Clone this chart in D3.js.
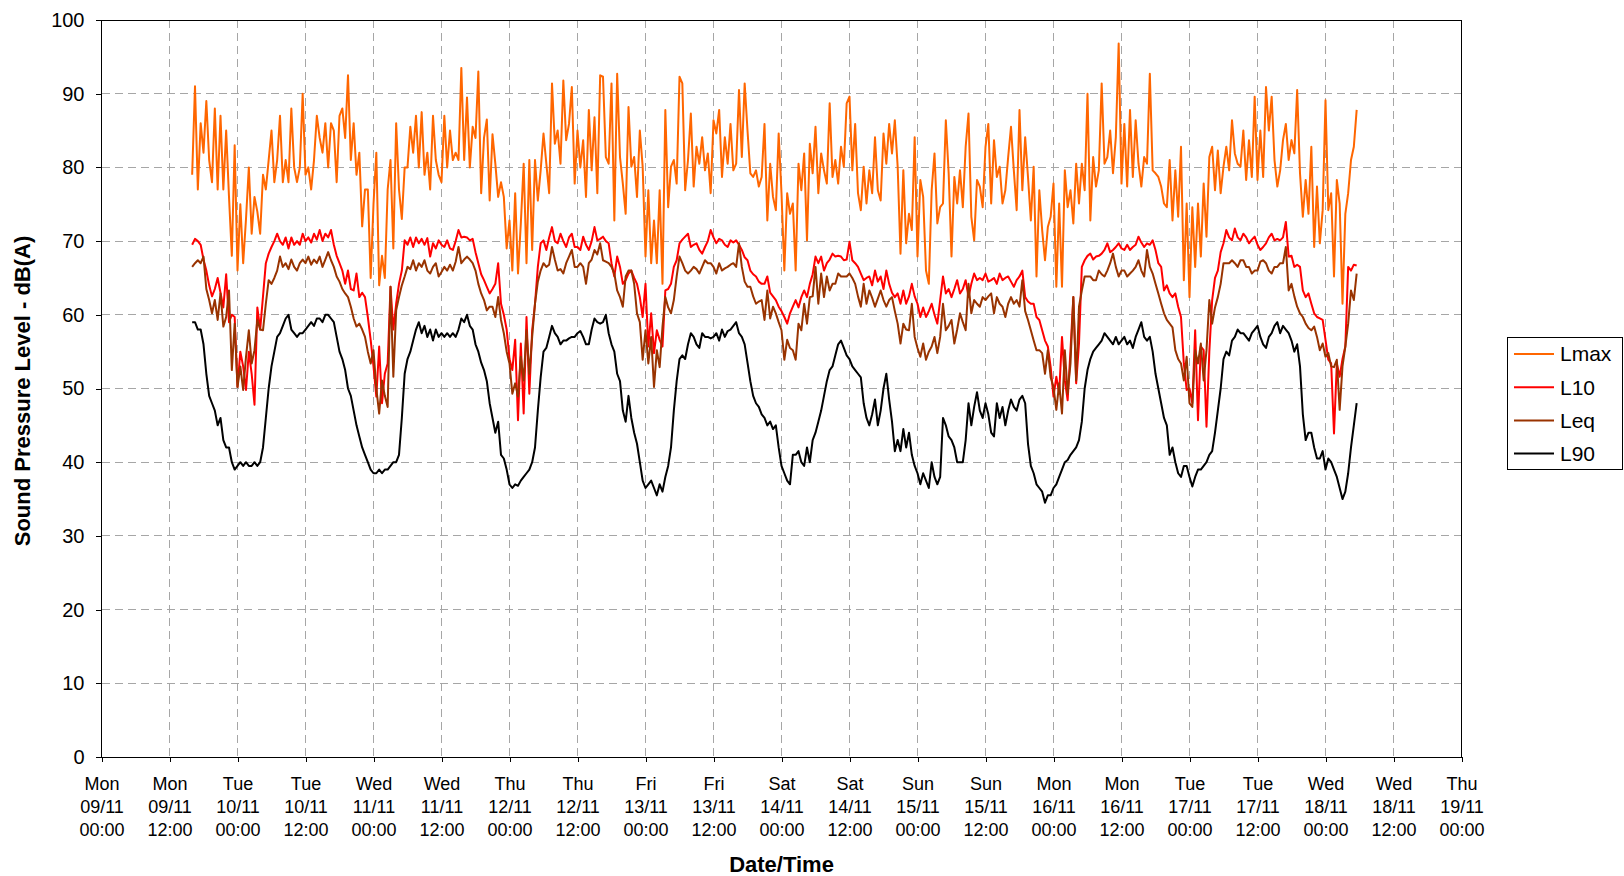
<!DOCTYPE html>
<html>
<head>
<meta charset="utf-8">
<script src="https://cdn.jsdelivr.net/npm/d3@7"></script>
<style>
    body { margin: 0; background: #fff; }
    svg { display: block; font-family: "Liberation Sans", Arial, sans-serif; }
    .grid line { stroke: #a6a6a6; stroke-width: 1; stroke-dasharray: 8,5; shape-rendering: crispEdges; }
    .axis path, .axis line { stroke: #000; shape-rendering: crispEdges; }
    .axis text { fill: #000; }
    .x.axis text { font-size: 18px; }
    .y.axis text { font-size: 20px; }
    .line { fill: none; stroke-width: 2; stroke-linejoin: round; }
</style>
</head>
<body>
<script>
// readings every 30 minutes, starting Mon 09/11 16:00
var startTime = new Date(2009, 10, 9, 16, 0);
var stepMinutes = 30;

var seriesNames = ['Lmax', 'L10', 'Leq', 'L90'];
var seriesColors = ['#ff6600', '#ff0000', '#993300', '#000000'];

var lmax = [
    79,91,77,86,82,89,81,78,88,77,87,77,85,76,68,83,
    66,75,67,73,80,71,76,74,71,79,77,81,85,78,81,87,78,81,78,88,80,78,80,90,
    79,80,77,81,87,84,82,86,80,86,85,78,87,88,84,92.5,81,86,79,82,72,77,77,65,
    75,82,64,68,65,77,81,69,86,77,73,80,80,85.5,82,87,80,87.5,79,82,77,87,81,79,
    78,87,80,85,81,82,81,93.5,81,89.5,80,85.5,84,93,76.5,84,86.5,75.5,84.5,80.5,76,78,76,69,
    72.8,66,76.5,65.6,72.4,80.5,67,81,68.8,81,75.5,79.6,84.6,80.5,76.5,91.4,83.2,85,80.5,91.8,83.7,85.9,90.9,77.8,
    85,80,83.7,76,87.8,79.6,86.8,76.5,92.5,92.3,81.4,80.5,91.4,72.8,92.7,81.4,77.8,73.7,88.2,80.1,81.4,76,85,80.1,
    67.9,76.9,67,72.8,67,76.9,64.2,87.8,74.6,80.1,81,77.8,92.3,91.4,76.9,81,87.3,77.4,82.8,80.5,84.1,79.6,81.9,76.5,
    86.4,84.6,87.8,78.7,84.1,80.5,85.9,79.6,80.5,90.5,81.4,91.4,85,79.2,78.7,79.6,77.4,78.7,85.9,72.8,80.5,76,74.2,84.6,
    76.5,66,76.5,73.7,75.1,66,80.5,76.9,81.9,70.1,83.2,79.2,85.5,76.5,81.9,79.6,77.8,88.7,78.7,81,77.8,82.8,80.1,88.7,
    89.6,79.6,85.9,76.5,74.2,80.1,75.1,79.6,76.5,84.1,76.9,75.5,84.6,80.5,85.9,81.9,86.4,80.1,68.3,79.6,69.7,73.7,71.5,84.1,
    67.9,78.3,76,66,64.2,76.9,81.9,72.4,74.6,75.1,86.4,79.2,67.9,78.7,75.1,79.6,74.6,82.8,87.3,73.3,70.1,78.3,77.4,74.6,
    82.8,85.9,75.1,83.7,78.7,80.1,75.1,76.9,81.4,85.5,79.6,74.2,87.8,76.9,84.1,78.7,72.8,80.1,65.2,76.9,71.5,67.4,71.9,73.3,
    77.8,63.8,75.1,63.8,79.6,74.6,76.9,72.4,80.5,75.1,80.5,76.9,90,72.8,81.4,77.4,79.6,91.4,80.5,81.4,85,79.2,84.1,96.8,
    77.8,85.9,77.4,87.8,78.7,86.4,80.5,77.4,81.4,80.5,92.7,79.6,79.2,78.7,77.4,75.1,74.6,81,72.8,79.6,73.3,82.8,64.7,75.1,
    62.4,74.6,66.5,75.1,67.9,77.8,70.6,81.4,82.8,76.9,82.3,76.5,80.1,82.8,79.6,86.4,81.9,80.5,80.1,85,78.3,83.7,78.7,89.6,
    78.3,85,78.7,90.9,85,89.6,81,77.4,79.6,83.7,85.9,81,83.7,81.9,90.5,79.2,73.3,78.3,73.7,82.8,69.2,77.4,69.7,74.2,
    89.1,74.2,76.5,65.2,78.3,75.1,61.5,73.7,76.5,81,82.8,87.8
];

var l10 = [
    69.5,70.3,70,69.5,67.5,66,64,62.5,63.5,65,63,61,65.5,59,60,59.7,
    50.2,55,53,49.8,55,52,47.8,61,58,62.5,67,68.3,69.2,70,71,70,69.5,70.5,69,70.5,69.5,70,69.5,71,
    70,70.5,69.8,71,70.2,71.5,70,71,70.5,71.5,69.5,68,67,66,64.2,66,63.5,63.3,65.6,62.4,63,62.4,59.7,56.6,
    53,48.9,55.7,48,52,53.4,63.8,58,61.5,64.2,66,70.1,69.5,70.5,69.2,70.5,69.7,70.3,69.5,70.4,67.9,69.7,69,70.1,
    69.5,69.2,70.1,69,68.8,70,71.5,70.5,70.6,70.5,70.1,70.3,68.5,67,65.5,64.7,63.8,62.9,63.5,64.2,67,61.5,60,58,
    54,52.5,56.6,45.7,56.1,46.6,59.7,49.3,57.9,61.5,66.5,69.7,70.1,68.8,70.5,71.9,70,69.7,71,70,69.2,70.5,71,69.2,
    69.2,68.8,70.6,69.5,68.8,70,71.9,70.1,70.3,70.6,70,69.7,67,65.2,67.9,66.5,64.2,64.7,65.6,66,65,64.2,62.4,59.7,
    64.2,55.7,60.2,54.8,57.9,56.6,55.7,63.3,63.5,64.2,66.5,67.4,69.7,70.2,70.6,71,69.2,69.5,69.7,68.8,68.3,69.2,70,71.5,
    70.5,69.7,70.3,70.1,69.5,69.2,70.1,69.8,70.1,69.5,68.8,67.8,67.4,66,65.5,65.2,64.5,64.2,64.2,65.2,63,62.5,62,61.1,
    60.5,59.7,58.8,60.2,61.1,62,61,62.4,63.3,62.4,64.2,65.5,67.9,67,67.9,66,67,67.5,68.3,67.9,68,67.9,67.4,67.5,
    69.9,67.4,67,66.5,65.6,64.7,65,65.2,64,66,64.5,65.2,63.5,66,64.2,63,62.4,62.9,61.5,63.3,61.5,62.5,64.2,62.5,
    61.5,59.7,61,59.7,60.5,61.5,60,58.8,62,65.2,62.9,63.5,62.4,63.5,64.7,62.9,63.5,64.7,62.4,64.2,65.6,64.7,65,64.7,
    65.6,64.5,64.7,65,64.2,65.6,64.7,65,65.2,64.5,63.8,64.7,65.2,66,62.4,61.8,61.5,61.5,59.7,59.3,57.9,56.5,55.7,52.9,
    48.9,51.6,49.3,57,51.1,48.4,55.2,62.4,50.7,56.1,66.5,67.4,68,68.3,67.5,67.9,68,68.3,68.8,69.7,68.5,68.8,69.2,69.7,
    69,68.8,69.5,68.8,69.2,69.5,70.6,69.8,69.2,69.7,69.5,70.1,68.8,67,66.5,63.3,64,62.9,62.4,62.9,61.1,59.7,53.4,49.8,
    50,48,57.9,45.7,55.7,55.2,44.8,55,62,65,66,68.5,69.7,71.5,70.5,70.1,71.7,70.5,70.1,71,70.5,69.7,70.2,70.6,
    69.5,68.8,69.2,69.7,70.5,71,70.1,70.3,70.1,70.5,72.6,67.9,68,66.5,66.8,66.5,63.3,62.4,62.9,61.5,60.2,59.7,59.5,59.3,
    56.6,53.9,53.4,43.9,53.4,51.6,54,55.7,66.5,66,66.8,66.7
];

var leq = [
    66.5,67,67.4,67,67.9,63.5,62,60.2,62,59.3,62.9,58.4,59.7,63.3,52.5,58.8,
    50.2,53,49.8,54.3,57.9,53.4,55.2,59.3,58,57.9,61.5,64.7,64.2,65,66,67.9,66.5,67,66.2,67.5,66.5,66,67,67.5,
    67,67.9,66.8,67.5,67,67.9,66.5,67.5,68.5,67.4,66.5,65.2,64.5,63.5,62.9,62.4,61.1,59.5,58.4,58.8,58,57,55,53.4,
    55.2,50,46.6,51.1,49,47.5,63.8,51.6,60.6,62.4,64,65.2,66.5,66.2,67.4,66,67,66.5,67.4,66,65.6,66.5,67,65.2,
    65.8,66.5,66,66.8,66,67.2,69.2,67,67.5,67.9,67.5,67,66,64.2,62.9,62,60.6,61.1,61.1,59.7,62.4,59.3,57.5,55,
    53.4,49.3,50.7,48.9,54.3,51.1,57.9,52,57,61.5,64.5,66,67,66.5,66.8,69.2,67.5,66,66.2,65.6,67,67.9,68.8,66.5,
    66.5,67,66.5,64.2,67,67.5,68.8,68.2,69.7,67.4,67.2,67,66.5,65.6,63.3,62.4,61.1,65.2,66,66,64.2,60.2,59,53.9,
    57.9,53.4,57,50.2,55.2,52.9,58.4,62.4,61,60.2,62,65.2,67.9,67,66,65.6,66,66.5,66.2,65.6,66.5,67.4,67,67,
    66.5,65.6,67,66,66.3,66.5,66.8,67,66.5,69.7,66.5,64.5,63.8,63.8,62.5,61.5,61.8,62,59.3,63.3,59.5,61.1,60.2,59,
    57.9,53.9,56.6,55.5,55.2,53.9,58.8,57.9,61.5,58.8,62.4,62.5,66.5,61.5,65.6,62.4,65.2,63.3,64.2,64.2,65.6,65.2,65.2,65.2,
    65.6,65,64.2,62.5,61.1,64.2,61.5,63.3,62.3,61.1,62.2,63.3,62,61.1,62,62.4,60.5,58.8,56.1,58.8,58,57.9,61.5,57,
    55.5,54.3,56.1,53.9,55,55.7,57,54.8,57,61.5,57.9,58.5,59.3,56.1,58,60.2,59,57.9,64.2,60.2,62,61.5,61.1,62.4,
    62,62.5,62.9,60.2,62.4,61.5,61.1,59.7,61.5,62.4,61.5,62,61.1,64.7,60.5,59.3,57.9,56.5,55.2,55.2,54.8,52,55.2,51.5,
    50.2,47.1,50.7,46.6,55.2,49.3,53.4,62.4,51.1,61.1,63.3,65.2,65.2,65.2,64.7,64.7,66,65.5,65.2,66,67,68.3,66.5,65.2,
    66,66,65.2,65.6,66,66.5,67.4,66,65.2,68.8,66.5,65.6,64.2,62.9,61.5,60.2,59.3,58.8,58.3,55.2,54,53.4,51.1,54.3,
    48,47.5,55.2,53.4,56.1,51.1,55.2,62,58.8,61,62.4,64.2,67,67,67,67.4,67,66.5,67.4,67.4,66.5,66.5,65.6,66,
    66,67.2,67.4,67,66,65.6,66.5,66.5,67,67,69.2,63.3,64.2,62.5,61.1,60.2,59.7,58.8,58.2,57.9,58.4,57,55.2,56.1,
    54.3,54.8,53,52.9,53.9,47.1,53,55.7,58.8,63.3,62,65.6
];

var l90 = [
    59,59,58,58,56,52,49,48,47,45,46,43,42,42,40,39,
    39.5,40,39.5,40,39.5,39.5,40,39.5,40,42,46,50,53,55,57,57.5,58.5,59.5,60,58,57.5,57,57.5,57.5,
    58,58.5,59,58.5,59.5,59.5,59,60,60,59.5,59,57,55,54,52.5,50,49,47,45,43.5,42,41,40,39,
    38.5,38.5,39,38.5,39,39,39.5,40,40,41,46,52,54,55,56.5,58,59,57.5,58.5,57,58,56.5,58,57,
    57.5,57,57.5,57,57.5,57,58,59.5,59,60,58.5,58,56,55,53.5,52.5,51,48,46,44,45.5,41,40.5,39,
    37,36.5,37,36.8,37.5,38,38.5,39,40,42,47,51.5,55,55.5,57,58.5,57.5,57,56,56.5,56.5,56.8,57,57,
    57.5,57.8,57,56,56,58,59.5,59,58.8,59,60,57.5,56,55,52,51,47,45.5,49,46,44,42.5,40,37.5,
    36.5,37,37.5,36.5,35.5,37,36,38,39.5,42,47,51,54,54.5,54,56,57.5,57,56,55.5,57.5,57,57,56.8,
    57,57.5,56.5,58,57,57.8,58,58.5,59,57.5,57,56,53.5,51,49,48,47.5,46.5,46,45,45.5,44.5,45,42,
    39.5,38.5,37.5,37,41,41,41.5,40,39.5,42,40,43,44,45.5,47,49,51,52.5,53,54.5,56,56.5,55.5,54.5,
    54,53,52.5,52,51.5,48,46,45,46.5,48.5,45,47,50,52,48.5,45.5,41.5,43,41.5,44.5,42,44,41,39.5,
    38.5,37,38.5,37.5,36.5,40,38,37,38,46,45,43.5,43,42,40,40,40,43,48,45,47.5,49.5,47,46,
    48,46.5,44,43.5,48,46,47.5,45,47,48.5,47.5,47,48.5,49,48,42.5,39.5,38.5,37,36.5,36,34.5,35.5,35.5,
    36.5,37,38,39,40,40.3,41,41.5,42,43,45.5,50,52.5,54,55,55.5,56,56.5,57.5,57,56.5,56,57,56,
    56.5,57,56,56.5,55.5,57,58,59,57,56.5,57,55,52,50,48,46,45,41,42,40,38.5,38,39.5,39.5,
    38,36.7,38,39,39,39.5,40,41,41.5,44,47,50,54,55,54.5,56.5,57,58,57.5,57.5,57,56.5,57.5,58,
    58.5,57,56,55.5,57,57.5,58.5,59,57.5,58.5,58,57.5,56.5,55,56,53,46.5,43,44,44,42,40.5,40.5,41.5,
    39,40.5,40,39,38,36.5,35,36,38.5,42,45,48
];

// axis ticks
var yTicks = [0, 10, 20, 30, 40, 50, 60, 70, 80, 90, 100];
var xStart = new Date(2009, 10, 9, 0, 0);
var xEnd = new Date(2009, 10, 19, 0, 0);

// set the dimensions of the page and the plot area
var width = 1624, height = 876;
var plot = {left: 101.5, right: 1461.5, top: 20, bottom: 757};

// set the ranges
var x = d3.scaleTime().domain([xStart, xEnd]).range([plot.left, plot.right]);
var y = d3.scaleLinear().domain([0, 100]).range([plot.bottom, plot.top]);

var xTicks = d3.timeHour.every(12).range(xStart, d3.timeHour.offset(xEnd, 1));

// turn each value array into {time, value} points
function toPoints(values) {
    return values.map(function (v, i) {
        return {time: d3.timeMinute.offset(startTime, i * stepMinutes), value: v};
    });
}
var allSeries = [lmax, l10, leq, l90].map(function (values, i) {
    return {name: seriesNames[i], color: seriesColors[i], points: toPoints(values)};
});

var svg = d3.select("body").append("svg")
    .attr("width", width)
    .attr("height", height);

// gridlines
var grid = svg.append("g").attr("class", "grid");
grid.selectAll(".hgrid")
    .data(yTicks.slice(1, -1))
    .enter().append("line")
    .attr("x1", plot.left).attr("x2", plot.right)
    .attr("y1", d => y(d)).attr("y2", d => y(d));
grid.selectAll(".vgrid")
    .data(xTicks.slice(1, -1))
    .enter().append("line")
    .attr("x1", d => x(d)).attr("x2", d => x(d))
    .attr("y1", plot.top).attr("y2", plot.bottom);

// plot area border
svg.append("rect")
    .attr("x", plot.left).attr("y", plot.top)
    .attr("width", plot.right - plot.left)
    .attr("height", plot.bottom - plot.top)
    .attr("fill", "none").attr("stroke", "#000")
    .attr("shape-rendering", "crispEdges");

// define the line
var valueline = d3.line()
    .x(d => x(d.time))
    .y(d => y(d.value));

// Add the lines, Lmax first so L90 ends on top
svg.selectAll(".line")
    .data(allSeries)
    .enter().append("path")
    .attr("class", "line")
    .attr("stroke", d => d.color)
    .attr("d", d => valueline(d.points));

// Add the X Axis
var fmtDay = d3.timeFormat("%a"), fmtDate = d3.timeFormat("%d/%m"), fmtTime = d3.timeFormat("%H:%M");
var xAxis = svg.append("g")
    .attr("class", "x axis")
    .attr("transform", "translate(0," + plot.bottom + ")")
    .call(d3.axisBottom(x).tickValues(xTicks).tickSize(5).tickSizeOuter(0).tickFormat(""));
xAxis.select(".domain").remove();
xAxis.selectAll(".tick text").remove();
xAxis.selectAll(".tick").each(function (d) {
    var t = d3.select(this).append("text")
        .attr("text-anchor", "middle")
        .attr("fill", "#000");
    [fmtDay(d), fmtDate(d), fmtTime(d)].forEach(function (s, i) {
        t.append("tspan").attr("x", 0).attr("y", 33 + i * 23).text(s);
    });
});

// Add the Y Axis
var yAxis = svg.append("g")
    .attr("class", "y axis")
    .attr("transform", "translate(" + plot.left + ",0)")
    .call(d3.axisLeft(y).tickValues(yTicks).tickSize(6).tickSizeOuter(0).tickPadding(11));
yAxis.select(".domain").remove();

// axis titles
svg.append("text")
    .attr("x", (plot.left + plot.right) / 2)
    .attr("y", 872)
    .attr("text-anchor", "middle")
    .style("font-size", "22px").style("font-weight", "bold")
    .text("Date/Time");
svg.append("text")
    .attr("transform", "translate(30," + 391 + ") rotate(-90)")
    .attr("text-anchor", "middle")
    .style("font-size", "22px").style("font-weight", "bold")
    .text("Sound Pressure Level - dB(A)");

// legend
var legend = svg.append("g").attr("transform", "translate(1507.5,337.5)");
legend.append("rect")
    .attr("width", 115).attr("height", 132)
    .attr("fill", "#fff").attr("stroke", "#000")
    .attr("shape-rendering", "crispEdges");
var item = legend.selectAll(".item")
    .data(allSeries)
    .enter().append("g")
    .attr("transform", (d, i) => "translate(0," + (16.5 + i * 33.2) + ")");
item.append("line")
    .attr("x1", 6.5).attr("x2", 46.5)
    .attr("stroke", d => d.color).attr("stroke-width", 2);
item.append("text")
    .attr("x", 52.5).attr("dy", "0.35em")
    .style("font-size", "21px")
    .text(d => d.name);
</script>
</body>
</html>
